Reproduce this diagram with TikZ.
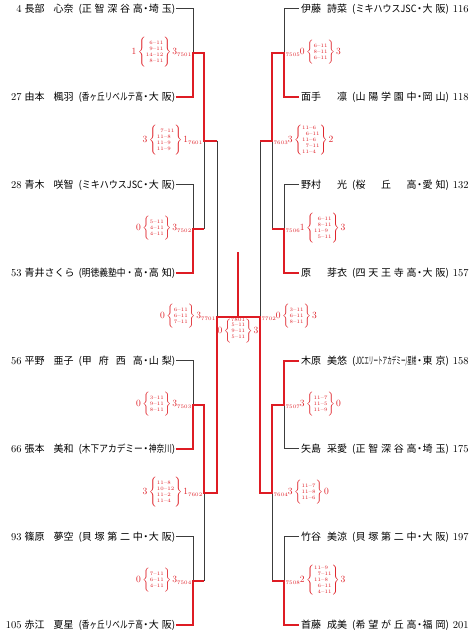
\documentclass[tikz,border=0pt]{standalone}
\usepackage{fontspec}
\usepackage{graphicx}
\newfontfamily\jp{Noto Sans CJK JP}
\definecolor{tred}{RGB}{222,28,36}
\definecolor{tgray}{RGB}{60,60,60}
\delimitershortfall=-0.5pt
\newsavebox\fitsave
\newcommand\fitbox[2]{\sbox\fitsave{#2}\ifdim\wd\fitsave>#1\relax\resizebox{#1}{\height}{\usebox\fitsave}\else\makebox[#1][l]{#2}\fi}
\newcommand\schf[2]{(\fitbox{61pt}{#1}\makebox[6pt]{・}\fitbox{23pt}{#2})}
\newcommand\numf{\fontsize{10.5}{12}\selectfont}
\newcommand\scl[1]{{\fontsize{5.1}{5.9}\selectfont\begin{tabular}{@{}r@{--}l@{}}#1\end{tabular}}}
\newcommand\brc[1]{$\left\{\vcenter{\hbox{\scl{#1}}}\right\}$}
\newcommand\lbl[1]{\raisebox{-1.4pt}{\fontsize{5.2}{6}\selectfont #1}}
\newcommand\scL[4]{#2\hspace{1.5pt}\brc{#3}\hspace{1pt}#4\lbl{#1}}
\newcommand\scR[4]{\lbl{#1}#2\hspace{1.5pt}\brc{#3}\hspace{1pt}#4}
\newcommand\pL[7]{\node[pname,anchor=east] (#1) at (175.5,#2) {\makebox[20pt][r]{\numf #3}\hspace{3pt}\makebox[49pt][l]{\jp #4\hfill #5}\hspace{5pt}{\jp\schf{#6}{#7}}};}
\newcommand\pR[7]{\node[pname,anchor=west] (#1) at (299,#2) {\hspace{2pt}\makebox[46pt][l]{\jp #4\hfill #5}\hspace{5pt}{\jp\schf{#6}{#7}}\hspace{4pt}{\numf #3}};}
\tikzset{
 thinl/.style={draw=tgray, line width=0.9pt},
 redl/.style={draw=tred, line width=2pt},
 pname/.style={inner sep=0pt, text height=7.6pt, text depth=0pt, font=\fontsize{10}{12}\selectfont},
 score/.style={inner sep=1.5pt, text=tred, font=\fontsize{9.5}{11}\selectfont},
}
\begin{document}
\begin{tikzpicture}[x=1pt,y=-1pt]
\path[use as bounding box] (0,0) rectangle (476,635);
% junctions
\coordinate (j7501) at (193,52.5);
\coordinate (j7502) at (193,228.5);
\coordinate (j7503) at (193,404.5);
\coordinate (j7504) at (193,580.5);
\coordinate (j7601) at (204,140.5);
\coordinate (j7602) at (204,492.5);
\coordinate (j7701) at (217,316.5);
\coordinate (j7505) at (284,52.5);
\coordinate (j7506) at (284,228.5);
\coordinate (j7507) at (284,404.5);
\coordinate (j7508) at (284,580.5);
\coordinate (j7603) at (272,140.5);
\coordinate (j7604) at (272,492.5);
\coordinate (j7702) at (260,316.5);
\coordinate (j7801) at (238,316.5);
\coordinate (ftop) at (238,252);
% players left
\pL{pL1}{8.5}{4}{長部}{心奈}{正\hfill 智\hfill 深\hfill 谷\hfill 高}{埼\hfill 玉}
\pL{pL2}{96.5}{27}{由本}{楓羽}{香ヶ丘リベルテ高}{大\hfill 阪}
\pL{pL3}{184.5}{28}{青木}{咲智}{ミキハウスJSC}{大\hfill 阪}
\pL{pL4}{272.5}{53}{青井}{さくら}{明徳義塾中・高}{高\hfill 知}
\pL{pL5}{360.5}{56}{平野}{亜子}{甲\hfill 府\hfill 西\hfill 高}{山\hfill 梨}
\pL{pL6}{448.5}{66}{張本}{美和}{木下アカデミー}{神奈川}
\pL{pL7}{536.5}{93}{篠原}{夢空}{貝\hfill 塚\hfill 第\hfill 二\hfill 中}{大\hfill 阪}
\pL{pL8}{624.5}{105}{赤江}{夏星}{香ヶ丘リベルテ高}{大\hfill 阪}
% players right
\pR{pR1}{8.5}{116}{伊藤}{詩菜}{ミキハウスJSC}{大\hfill 阪}
\pR{pR2}{96.5}{118}{面手}{凛}{山\hfill 陽\hfill 学\hfill 園\hfill 中}{岡\hfill 山}
\pR{pR3}{184.5}{132}{野村}{光}{桜\hfill 丘\hfill 高}{愛\hfill 知}
\pR{pR4}{272.5}{157}{原}{芽衣}{四\hfill 天\hfill 王\hfill 寺\hfill 高}{大\hfill 阪}
\pR{pR5}{360.5}{158}{木原}{美悠}{JOCエリートアカデミー/星槎}{東\hfill 京}
\pR{pR6}{448.5}{175}{矢島}{采愛}{正\hfill 智\hfill 深\hfill 谷\hfill 高}{埼\hfill 玉}
\pR{pR7}{536.5}{197}{竹谷}{美涼}{貝\hfill 塚\hfill 第\hfill 二\hfill 中}{大\hfill 阪}
\pR{pR8}{624.5}{201}{首藤}{成美}{希\hfill 望\hfill が\hfill 丘\hfill 高}{福\hfill 岡}
% thin connectors
\draw[thinl] (pL1.east) -| (j7501);
\draw[thinl] (pL3.east) -| (j7502);
\draw[thinl] (j7502 -| j7601) -- (j7601);
\draw[thinl] (j7601 -| j7701) -- (j7701);
\draw[thinl] (pL5.east) -| (j7503);
\draw[thinl] (pL7.east) -| (j7504);
\draw[thinl] (j7504 -| j7602) -- (j7602);
\draw[thinl] (pR1.west) -| (j7505);
\draw[thinl] (pR3.west) -| (j7506);
\draw[thinl] (j7506 -| j7603) -- (j7603);
\draw[thinl] (j7603 -| j7702) -- (j7702);
\draw[thinl] (pR6.west) -| (j7507);
\draw[thinl] (pR7.west) -| (j7508);
\draw[thinl] (j7508 -| j7604) -- (j7604);
% red winner paths
\draw[redl] (pL2.east) -| (j7501) -- (j7501 -| j7601) -- (j7601) -- (j7601 -| j7701);
\draw[redl] (pL4.east) -| (j7502) -- (j7502 -| j7601);
\draw[redl] (pL6.east) -| (j7503) -- (j7503 -| j7602) -- (j7602) -- (j7602 -| j7701) -- (j7701) -- (j7801);
\draw[redl] (pL8.east) -| (j7504) -- (j7504 -| j7602);
\draw[redl] (pR2.west) -| (j7505) -- (j7505 -| j7603) -- (j7603) -- (j7603 -| j7702);
\draw[redl] (pR4.west) -| (j7506) -- (j7506 -| j7603);
\draw[redl] (pR5.west) -| (j7507) -- (j7507 -| j7604) -- (j7604) -- (j7604 -| j7702) -- (j7702) -- (j7801);
\draw[redl] (pR8.west) -| (j7508) -- (j7508 -| j7604);
\draw[redl] (j7801) -- (ftop);
% scores left
\node[score,anchor=east] (s7501) at (j7501) {\scL{7501}{1}{6&11\\9&11\\14&12\\8&11}{3}};
\node[score,anchor=east] (s7502) at (j7502) {\scL{7502}{0}{5&11\\4&11\\4&11}{3}};
\node[score,anchor=east] (s7503) at (j7503) {\scL{7503}{0}{3&11\\9&11\\8&11}{3}};
\node[score,anchor=east] (s7504) at (j7504) {\scL{7504}{0}{7&11\\6&11\\4&11}{3}};
\node[score,anchor=east] (s7601) at (j7601) {\scL{7601}{3}{7&11\\11&8\\11&9\\11&9}{1}};
\node[score,anchor=east] (s7602) at (j7602) {\scL{7602}{3}{11&8\\10&12\\11&2\\11&4}{1}};
\node[score,anchor=east] (s7701) at (j7701) {\scL{7701}{0}{6&11\\6&11\\7&11}{3}};
% scores right
\node[score,anchor=west] (s7505) at (j7505) {\scR{7505}{0}{6&11\\8&11\\6&11}{3}};
\node[score,anchor=west] (s7506) at (j7506) {\scR{7506}{1}{6&11\\8&11\\11&9\\5&11}{3}};
\node[score,anchor=west] (s7507) at (j7507) {\scR{7507}{3}{11&7\\11&5\\11&9}{0}};
\node[score,anchor=west] (s7508) at (j7508) {\scR{7508}{2}{11&9\\7&11\\11&8\\6&11\\4&11}{3}};
\node[score,anchor=west] (s7603) at (j7603) {\scR{7603}{3}{11&6\\6&11\\11&6\\7&11\\11&4}{2}};
\node[score,anchor=west] (s7604) at (j7604) {\scR{7604}{3}{11&7\\11&8\\11&6}{0}};
\node[score,anchor=west] (s7702) at (j7702) {\scR{7702}{0}{3&11\\6&11\\8&11}{3}};
% final
\node[score,inner sep=0pt,font=\fontsize{5.2}{6}\selectfont] (l7801) at (238,320) {7801};
\node[score] (s7801) at (238,331) {0\hspace{1.5pt}\brc{5&11\\9&11\\5&11}\hspace{1pt}3};
\end{tikzpicture}
\end{document}
